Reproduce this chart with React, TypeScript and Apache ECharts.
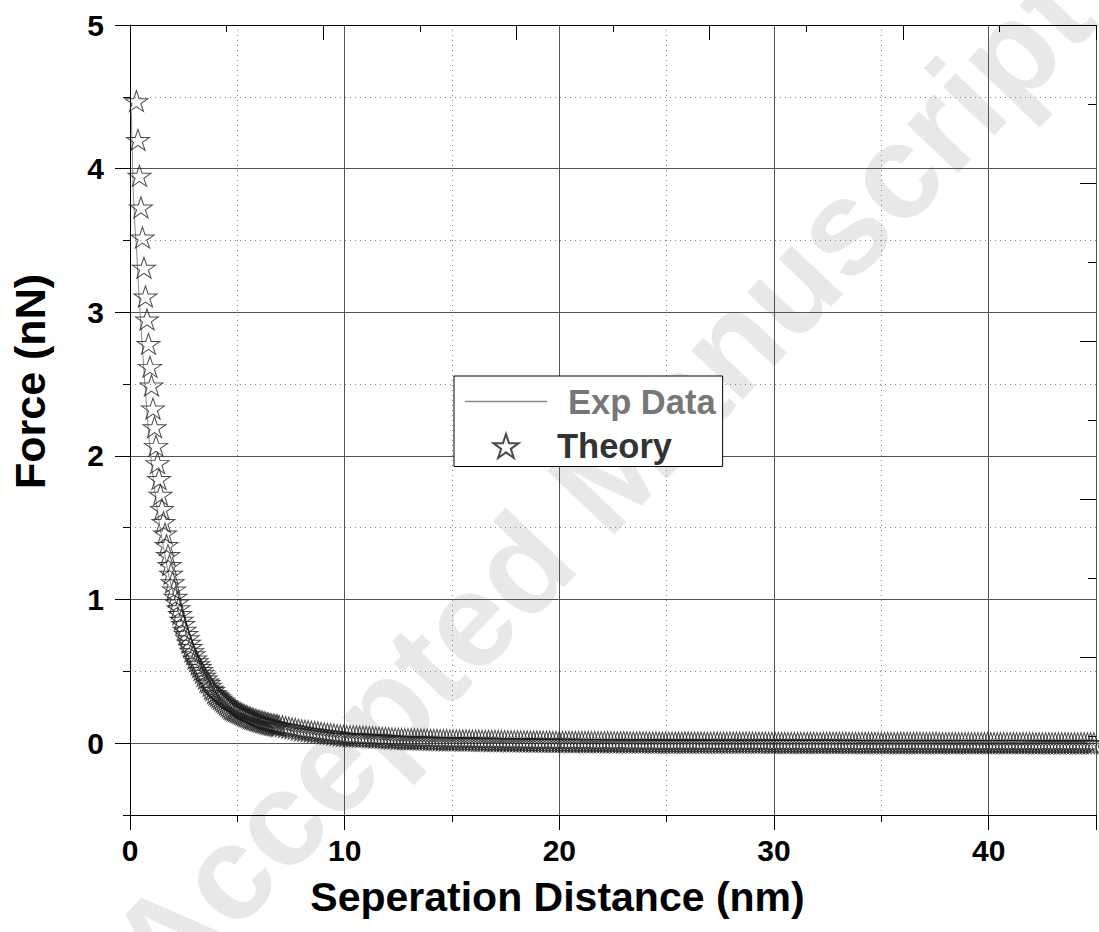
import React, { useEffect, useRef } from 'react';
import * as echarts from 'echarts';

const FONT = '"Liberation Sans", Arial, Helvetica, sans-serif';

// ---- tick labels ----
const xTickLabels = ['0', '10', '20', '30', '40'];
const yTickValues = [0, 1, 2, 3, 4, 5];

// ---- Theory (stars): steep part, sampled every 0.07 nm from 0.30 nm ----
const theoryHeadStart = 0.3;
const theoryHeadStep = 0.07;
const theoryHeadForce = [
  4.47, 4.2, 3.95, 3.73, 3.52, 3.31, 3.11, 2.95, 2.78, 2.62,
  2.49, 2.33, 2.2, 2.07, 1.95, 1.84, 1.73, 1.63, 1.54, 1.46,
  1.38, 1.31, 1.24, 1.18, 1.12, 1.07, 1.02, 0.98, 0.94, 0.9,
  0.86, 0.83, 0.79, 0.76, 0.73, 0.7, 0.67, 0.64, 0.62, 0.59,
  0.57, 0.55, 0.53, 0.51, 0.49, 0.47, 0.45, 0.43, 0.42, 0.4,
  0.38, 0.37, 0.35, 0.34, 0.33, 0.32, 0.31, 0.3, 0.29, 0.28,
  0.27, 0.26, 0.25, 0.24, 0.235, 0.23, 0.225, 0.22, 0.215, 0.21,
  0.205, 0.2, 0.195, 0.19, 0.185, 0.18, 0.176, 0.172, 0.168, 0.164,
  0.16, 0.157, 0.154, 0.151, 0.148, 0.145, 0.142, 0.139, 0.136, 0.133,
  0.13, 0.128, 0.126, 0.124, 0.122, 0.12,
];

// ---- Theory (stars): flat tail, sampled every 0.15 nm from 7.10 nm ----
const theoryTailStart = 7.1;
const theoryTailStep = 0.15;
const theoryTailForce = [
  0.118, 0.113, 0.108, 0.104, 0.1, 0.095, 0.09,
  0.087, 0.084, 0.081, 0.078, 0.075, 0.072, 0.069, 0.066, 0.063, 0.06, 0.057, 0.054, 0.051,
  0.05, 0.049, 0.048, 0.047, 0.046, 0.045, 0.044, 0.043, 0.042, 0.04, 0.039, 0.038, 0.037, 0.035, 0.033, 0.032, 0.03,
  0.03, 0.029, 0.029, 0.028, 0.027, 0.027, 0.026, 0.025, 0.025, 0.024, 0.023, 0.023, 0.022, 0.021, 0.021, 0.02, 0.02,
  0.02, 0.02, 0.019, 0.019, 0.019, 0.018, 0.018, 0.018, 0.017, 0.017, 0.017, 0.016, 0.016, 0.016, 0.015, 0.015, 0.015,
  0.014, 0.014, 0.014, 0.013, 0.013, 0.013, 0.012, 0.012, 0.012, 0.011, 0.011, 0.011, 0.011, 0.01, 0.01, 0.01,
  0.01, 0.01, 0.01, 0.009, 0.009, 0.009, 0.009, 0.009, 0.009, 0.008, 0.008, 0.008, 0.008, 0.008, 0.008,
  0.007, 0.007, 0.007, 0.007, 0.007, 0.007, 0.006, 0.006, 0.006, 0.006, 0.006, 0.006, 0.006,
  0.005, 0.005, 0.005, 0.005, 0.005, 0.005,
  0.005, 0.005, 0.005, 0.005, 0.005, 0.005, 0.005, 0.005, 0.005, 0.005,
  0.004, 0.004, 0.004, 0.004, 0.004, 0.004, 0.004, 0.004, 0.004, 0.004,
  0.004, 0.004, 0.004, 0.004, 0.004, 0.004, 0.004, 0.004, 0.004, 0.004,
  0.003, 0.003, 0.003, 0.003, 0.003, 0.003, 0.003, 0.003, 0.003, 0.003,
  0.003, 0.003, 0.003, 0.003, 0.003, 0.003, 0.003, 0.003, 0.003, 0.003,
  0.003, 0.003, 0.003, 0.003, 0.003,
  0.002, 0.002, 0.002, 0.002, 0.002, 0.002, 0.002, 0.002, 0.002, 0.002,
  0.002, 0.002, 0.002, 0.002, 0.002, 0.002, 0.002, 0.002, 0.002, 0.002,
  0.002, 0.002, 0.002, 0.002, 0.002, 0.002, 0.002, 0.002,
  0.001, 0.001, 0.001, 0.001, 0.001, 0.001, 0.001, 0.001, 0.001, 0.001,
  0.001, 0.001, 0.001, 0.001, 0.001, 0.001, 0.001, 0.001, 0.001, 0.001,
  0.001, 0.001, 0.001, 0.001, 0.001, 0.001, 0.001, 0.001, 0.001, 0.001,
  0.0, 0.0, 0.0, 0.0, 0.0, 0.0, 0.0, 0.0, 0.0, 0.0,
  0.0, 0.0, 0.0, 0.0, 0.0, 0.0, 0.0, 0.0, 0.0, 0.0,
];

// ---- Exp Data (thin grey line) ----
const expDistance = [
  0.06, 0.08, 0.15, 0.23, 0.3, 0.4, 0.5, 0.6, 0.7,
  0.8, 0.9, 1.0, 1.2, 1.4, 1.6, 1.8, 2.0, 2.3, 2.6,
  3.0, 3.4, 3.8, 4.2, 4.6, 5.0, 5.5, 6.0, 7.0, 8.0,
  9.0, 10, 12, 15, 20, 25, 30, 35, 40, 45,
];
const expForce = [
  4.4, 4.27, 3.85, 3.6, 3.45, 3.17, 2.93, 2.7, 2.49,
  2.29, 2.1, 1.95, 1.7, 1.5, 1.33, 1.17, 1.05, 0.9, 0.77,
  0.62, 0.5, 0.42, 0.35, 0.3, 0.26, 0.22, 0.185, 0.14, 0.105,
  0.08, 0.06, 0.04, 0.03, 0.022, 0.02, 0.02, 0.02, 0.02, 0.02,
];

const STAR =
  'path://M100,0 L122.45,69.1 L195.1,69.1 L136.33,111.8 L158.8,180.9 L100,138.2 L41.2,180.9 L63.67,111.8 L4.9,69.1 L77.55,69.1 Z';
const LEGEND_LINE = 'path://M0,0 L82,0 L82,1.3 L0,1.3 Z';

const r2 = (v: number) => Math.round(v * 1000) / 1000;

export default function App() {
  const ref = useRef<HTMLDivElement>(null);

  useEffect(() => {
    if (!ref.current) return;
    const chart = echarts.init(ref.current, undefined, { renderer: 'svg' });

    const theoryData: number[][] = [
      ...theoryHeadForce.map((f, i) => [r2(theoryHeadStart + i * theoryHeadStep), f]),
      ...theoryTailForce.map((f, i) => [r2(theoryTailStart + i * theoryTailStep), f]),
    ];
    const expData = expDistance.map((d, i) => [d, expForce[i]]);

    const labelStyle = {
      fontFamily: FONT,
      fontWeight: 'bold' as const,
      fontSize: 30,
      color: '#000',
    };
    const clear = 'rgba(0,0,0,0)';

    chart.setOption({
      animation: false,
      backgroundColor: '#fff',
      grid: { left: 130, top: 25, right: -6, bottom: 117, containLabel: false },
      graphic: [
        {
          type: 'text',
          z: -10,
          silent: true,
          x: 600,
          y: 482,
          rotation: 0.81,
          style: {
            text: 'Accepted Manuscript',
            fontSize: 134,
            fontWeight: 'bold',
            fontFamily: FONT,
            fill: '#e8e8e8',
            align: 'center',
            verticalAlign: 'middle',
          },
        },
      ],
      legend: {
        orient: 'vertical',
        left: 454,
        top: 376,
        padding: [8, 7, 3, 11],
        itemWidth: 82,
        itemHeight: 24,
        itemGap: 9.5,
        borderColor: '#000',
        borderWidth: 1,
        borderRadius: 0,
        backgroundColor: '#fff',
        textStyle: { fontFamily: FONT, fontWeight: 'bold', fontSize: 34.5 },
        data: [
          {
            name: 'Exp Data',
            icon: LEGEND_LINE,
            itemStyle: { color: '#8c8c8c' },
            textStyle: { color: '#777', padding: [0, 0, 0, 16] },
          },
          { name: 'Theory', textStyle: { color: '#333', padding: [0, 0, 0, 5] } },
        ],
      },
      xAxis: [
        {
          type: 'value',
          position: 'bottom',
          min: 0,
          max: 45,
          interval: 5,
          axisLine: { show: true, onZero: false, lineStyle: { color: '#000', width: 1 } },
          axisTick: { show: true, length: 7, lineStyle: { color: '#000' } },
          axisLabel: { show: false },
          splitLine: { show: true, lineStyle: { color: [clear, '#888'], type: [1, 4], width: 1 } },
        },
        {
          type: 'value',
          position: 'bottom',
          min: 0,
          max: 45,
          interval: 10,
          axisLine: { show: false, onZero: false },
          axisTick: { show: true, length: 15, lineStyle: { color: '#000' } },
          axisLabel: {
            show: true,
            margin: 20,
            ...labelStyle,
            formatter: (v: number) => (xTickLabels.includes(String(v)) ? String(v) : ''),
          },
          splitLine: { show: true, showMinLine: false, lineStyle: { color: '#555', width: 1 } },
          name: 'Seperation Distance (nm)',
          nameLocation: 'middle',
          nameGap: 61,
          nameTextStyle: {
            fontFamily: FONT,
            fontWeight: 'bold',
            fontSize: 41,
            color: '#000',
            padding: [0, 111, 0, 0],
          },
        },
        {
          type: 'value',
          position: 'top',
          min: 0,
          max: 10,
          interval: 2,
          axisLine: { show: true, onZero: false, lineStyle: { color: '#000', width: 1 } },
          axisTick: { show: true, inside: true, length: 15, lineStyle: { color: '#000' } },
          minorTick: { show: true, splitNumber: 2, length: 7, lineStyle: { color: '#000' } },
          axisLabel: { show: false },
          splitLine: { show: false },
        },
      ],
      yAxis: [
        {
          type: 'value',
          position: 'left',
          min: -0.5,
          max: 5,
          interval: 0.5,
          axisLine: { show: true, onZero: false, lineStyle: { color: '#000', width: 1 } },
          axisTick: { show: true, length: 7, lineStyle: { color: '#000' } },
          axisLabel: { show: false },
          splitLine: { show: true, lineStyle: { color: [clear, '#555'], width: 1 } },
        },
        {
          type: 'value',
          position: 'left',
          min: -0.5,
          max: 5,
          interval: 0.5,
          axisLine: { show: false, onZero: false },
          axisTick: { show: true, length: 15, customValues: yTickValues, lineStyle: { color: '#000' } },
          axisLabel: { show: true, margin: 26, customValues: yTickValues, ...labelStyle },
          splitLine: { show: false },
          name: 'Force (nN)',
          nameLocation: 'middle',
          nameGap: 79,
          nameRotate: 90,
          nameTextStyle: {
            fontFamily: FONT,
            fontWeight: 'bold',
            fontSize: 43,
            color: '#000',
            padding: [0, 0, 0, 77],
          },
        },
        {
          type: 'value',
          position: 'left',
          min: -0.5,
          max: 5,
          interval: 0.5,
          axisLine: { show: false, onZero: false },
          axisTick: { show: false },
          axisLabel: { show: false },
          splitLine: { show: true, lineStyle: { color: ['#888', clear], type: [1, 4], width: 1 } },
        },
        {
          type: 'value',
          position: 'right',
          min: 0,
          max: 5,
          interval: 1,
          axisLine: { show: false, onZero: false },
          axisTick: { show: true, inside: true, length: 16, lineStyle: { color: '#000' } },
          minorTick: { show: true, splitNumber: 2, length: 8, lineStyle: { color: '#000' } },
          axisLabel: { show: false },
          splitLine: { show: false },
        },
      ],
      series: [
        {
          name: 'Exp Data',
          type: 'line',
          xAxisIndex: 0,
          yAxisIndex: 0,
          data: expData,
          symbol: 'none',
          showSymbol: false,
          lineStyle: { color: '#8c8c8c', width: 1 },
          itemStyle: { color: '#8c8c8c' },
          clip: true,
          z: 3,
        },
        {
          name: 'Theory',
          type: 'scatter',
          xAxisIndex: 0,
          yAxisIndex: 0,
          data: theoryData,
          symbol: STAR,
          symbolSize: [23, 22],
          symbolKeepAspect: true,
          itemStyle: { color: clear, borderColor: '#1e1e1e', borderWidth: 1 },
          clip: true,
          z: 4,
        },
      ],
    });

    return () => chart.dispose();
  }, []);

  return (
    <div
      ref={ref}
      style={{ position: 'absolute', left: 0, top: 0, width: 1099, height: 932 }}
    />
  );
}
